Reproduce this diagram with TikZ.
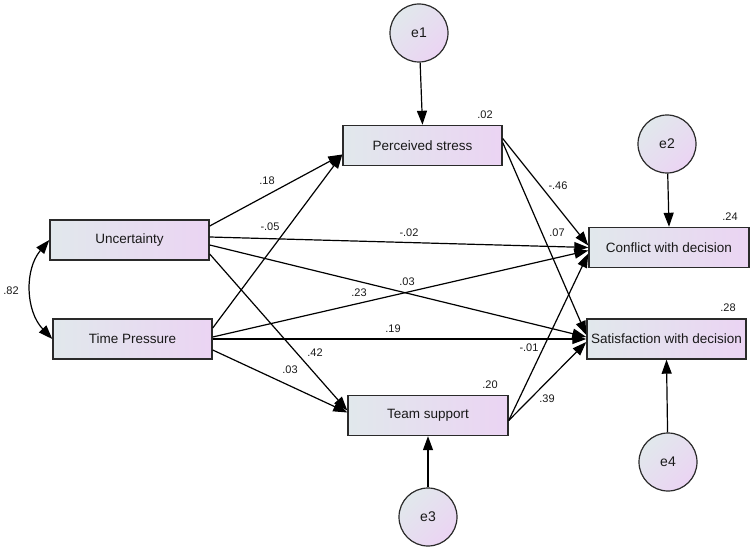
\documentclass[tikz,border=0pt]{standalone}
\usepackage{fontspec}
\setmainfont{Liberation Sans}
\usetikzlibrary{arrows.meta}
\definecolor{boxL}{HTML}{E1E8EC}
\definecolor{boxR}{HTML}{EBD4F3}
\definecolor{edgec}{HTML}{2A2A2A}
\tikzset{
  var/.style={draw=edgec, line width=1.4pt, left color=boxL, right color=boxR, minimum width=159pt, minimum height=40pt, inner sep=0pt, font=\fontsize{13.5}{16}\selectfont, text=black!90},
  err/.style={circle, draw=edgec, line width=1.2pt, top color=boxL, bottom color=boxR, shading angle=45, minimum size=58pt, inner sep=0pt, font=\fontsize{14}{16}\selectfont, text=black!90},
  path/.style={draw=black, line width=1.2pt, -{Triangle[length=14pt,width=10pt]}},
  coef/.style={font=\fontsize{11}{13}\selectfont, inner sep=0pt, text=black!90},
}
\begin{document}
\begin{tikzpicture}[x=1pt,y=-1pt]
\useasboundingbox (0,0) rectangle (753,551);
% observed variables
\node[var] (unc) at (129.5,240) {Uncertainty};
\node[var] (tp) at (132.5,339) {Time Pressure};
\node[var] (ps) at (422.5,145.5) {Perceived stress};
\node[var, minimum width=160pt] (ts) at (428,415.5) {Team support};
\node[var, minimum width=160pt] (cf) at (669,247.5) {Conflict with decision};
\node[var] (sat) at (666.5,339) {Satisfaction with decision};
% errors
\node[err] (e1) at (419,33) {e1};
\node[err] (e2) at (667,144) {e2};
\node[err] (e3) at (428,517) {e3};
\node[err] (e4) at (668,462) {e4};
% error paths
\draw[path] (e1) -- (ps.north);
\draw[path] (e2) -- (cf.north);
\draw[path] (e3) -- (ts.south);
\draw[path] (e4) -- (sat.south);
% correlation
\draw[line width=1.2pt, {Triangle[length=14pt,width=10pt]}-{Triangle[length=14pt,width=10pt]}] (unc.west) to[bend right=42] (tp.west);
% structural paths
\draw[path] ([yshift=14pt]unc.east) -- ([yshift=-9pt]ps.west);
\draw[path] ([yshift=11pt]tp.east) -- ([yshift=-9pt]ps.west);
\draw[path] ([yshift=3pt]unc.east) -- (cf.west);
\draw[path] ([yshift=-5pt]unc.east) -- ([yshift=2pt]sat.west);
\draw[path] ([yshift=-14pt]unc.east) -- ([yshift=5pt]ts.west);
\draw[path] ([yshift=2pt]tp.east) -- ([yshift=-3pt]cf.west);
\draw[path] (tp.east) -- (sat.west);
\draw[path] ([yshift=-11pt]tp.east) -- ([yshift=3pt]ts.west);
\draw[path] ([yshift=7pt]ps.east) -- ([yshift=2pt]cf.west);
\draw[path] ([yshift=3pt]ps.east) -- ([yshift=4pt]sat.west);
\draw[path] ([yshift=-5pt]ts.east) -- ([yshift=-6pt]cf.west);
\draw[path] ([yshift=-5pt]ts.east) -- ([yshift=-3pt]sat.west);
% coefficients
\node[coef] (l82) at (11,291) {.82};
\node[coef] (l18) at (267,181) {.18};
\node[coef] (l05) at (270,227) {-.05};
\node[coef] (l42) at (315,353) {.42};
\node[coef] (l03b) at (290,370) {.03};
\node[coef] (l02) at (409,233) {-.02};
\node[coef] (l23) at (359,293) {.23};
\node[coef] (l03a) at (407,282) {.03};
\node[coef] (l19) at (393,329) {.19};
\node[coef] (l01) at (529,348) {-.01};
\node[coef] (l39) at (547,399) {.39};
\node[coef] (l46) at (558,186) {-.46};
\node[coef] (l07) at (557,233) {.07};
% R squared
\node[coef] (r1) at (485,115) {.02};
\node[coef] (r2) at (730,217) {.24};
\node[coef] (r3) at (728,308) {.28};
\node[coef] (r4) at (490,385) {.20};
\end{tikzpicture}
\end{document}
